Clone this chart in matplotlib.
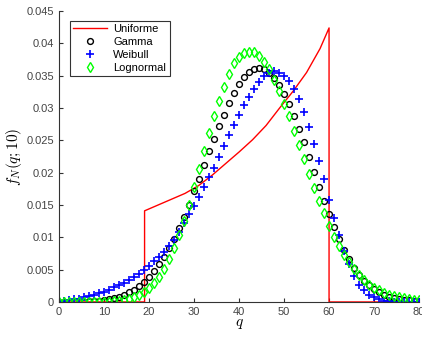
import numpy as np
import matplotlib
matplotlib.use("Agg")
import matplotlib.pyplot as plt

# q grid of the markers (73 points between 0 and 80)
q = np.linspace(0, 80, 73)

gamma = [0, 0, 0, 0.00001, 0.00003, 0.00005, 0.00008, 0.00013, 0.0002, 0.0003,
         0.0004, 0.0006, 0.0008, 0.0011, 0.0015, 0.0019, 0.0025, 0.0031, 0.0039, 0.0048,
         0.0058, 0.007, 0.0083, 0.0098, 0.0115, 0.0131, 0.015, 0.0171, 0.019, 0.0212,
         0.0233, 0.0252, 0.0272, 0.029, 0.0308, 0.0324, 0.0337, 0.0348, 0.0356, 0.036,
         0.0362, 0.036, 0.0355, 0.0347, 0.0336, 0.0322, 0.0306, 0.0288, 0.0268, 0.0247,
         0.0225, 0.0201, 0.0178, 0.0156, 0.0136, 0.0116, 0.0097, 0.0081, 0.0066, 0.0053,
         0.0042, 0.0033, 0.0026, 0.002, 0.0015, 0.0011, 0.0008, 0.0006, 0.00045, 0.00033,
         0.00024, 0.00017, 0.00012]

weibull = [0.0001, 0.0002, 0.0003, 0.0004, 0.0005, 0.0007, 0.0009, 0.0011, 0.0014, 0.0016,
           0.0019, 0.0023, 0.0026, 0.003, 0.0034, 0.0039, 0.0044, 0.005, 0.0056, 0.0063,
           0.007, 0.0078, 0.0086, 0.0096, 0.0109, 0.0122, 0.0136, 0.0149, 0.0163, 0.0178,
           0.0193, 0.0208, 0.0224, 0.0241, 0.0258, 0.0274, 0.029, 0.0304, 0.0317, 0.0329,
           0.034, 0.0349, 0.0355, 0.0357, 0.0355, 0.035, 0.0342, 0.033, 0.0314, 0.0294,
           0.0271, 0.0245, 0.0218, 0.019, 0.0158, 0.013, 0.0103, 0.0079, 0.0058, 0.004,
           0.0027, 0.0018, 0.0011, 0.0007, 0.0004, 0.0002, 0.0001, 0.00005, 0.00002, 0,
           0, 0, 0]

lognormal = [0, 0, 0, 0, 0, 0, 0, 0, 0, 0.00002,
             0.00005, 0.0001, 0.0002, 0.0003, 0.0005, 0.0008, 0.0011, 0.0016, 0.0022, 0.003,
             0.0039, 0.0051, 0.0066, 0.0083, 0.0103, 0.0125, 0.015, 0.0178, 0.0205, 0.0233,
             0.0261, 0.0287, 0.0311, 0.0333, 0.0353, 0.0369, 0.0379, 0.0385, 0.0387, 0.0386,
             0.0381, 0.0372, 0.036, 0.0344, 0.0326, 0.0307, 0.0287, 0.0265, 0.0243, 0.0221,
             0.0198, 0.0176, 0.0156, 0.0138, 0.0118, 0.0101, 0.0086, 0.0073, 0.0062, 0.0051,
             0.0042, 0.0034, 0.0027, 0.0022, 0.0018, 0.0014, 0.0011, 0.0009, 0.0007, 0.00055,
             0.00045, 0.00035, 0.0003]

q_unif = [0, 19, 19, 22, 25, 28, 31, 34, 37, 40, 43, 46, 49, 52, 55, 58, 60, 60, 80]
unif = [0, 0, 0.0141, 0.015, 0.0159, 0.0168, 0.018, 0.0196, 0.0214, 0.0232,
        0.0251, 0.0273, 0.03, 0.0326, 0.0355, 0.0392, 0.0424, 0, 0]

plt.rcParams["font.family"] = ["Liberation Sans", "DejaVu Sans"]
plt.rcParams["mathtext.fontset"] = "cm"

fig = plt.figure(figsize=(4.22, 3.37), dpi=100)
ax = fig.add_axes([0.14, 0.104, 0.853, 0.863])

ax.plot(q_unif, unif, color="red", lw=1.0, label="Uniforme")
ax.plot(q, gamma, "o", ms=4.2, mfc="none", mec="black", mew=1.0, label="Gamma")
ax.plot(q, weibull, "+", ms=5.5, color="blue", mew=1.2, label="Weibull")
ax.plot(q, lognormal, "d", ms=4.8, mfc="none", mec="#00ff00", mew=1.0, label="Lognormal")

ax.set_xlim(0, 80)
ax.set_ylim(0, 0.045)
ax.set_xticks(range(0, 81, 10))
ax.set_yticks(np.arange(0, 0.0451, 0.005))
ax.set_yticklabels(["0", "0.005", "0.01", "0.015", "0.02", "0.025",
                    "0.03", "0.035", "0.04", "0.045"])
ax.tick_params(direction="in", length=3, labelsize=8, colors="#333333",
               labelcolor="#444444")
for side in ["top", "right"]:
    ax.spines[side].set_visible(False)
for side in ["left", "bottom"]:
    ax.spines[side].set_color("#333333")

ax.set_xlabel("$q$", fontsize=11, labelpad=0)
ax.set_ylabel("$f_N(q;10)$", fontsize=11, labelpad=2)

leg = ax.legend(loc="upper left", bbox_to_anchor=(0.015, 0.985), fontsize=8,
                frameon=True, fancybox=False, edgecolor="black",
                handlelength=3.0, borderpad=0.3, labelspacing=0.25,
                handletextpad=0.6)
leg.get_frame().set_linewidth(0.8)

fig.savefig("out.png", dpi=100)
